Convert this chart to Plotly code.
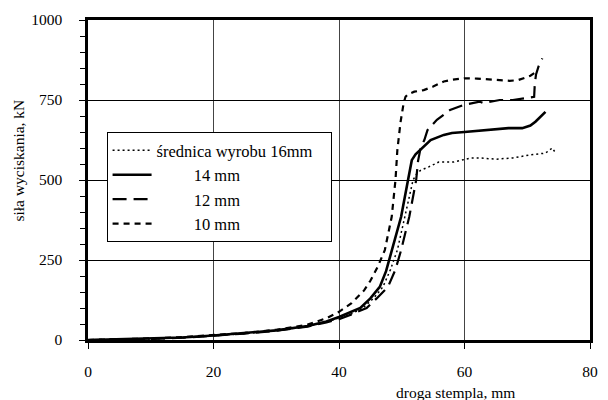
import plotly.graph_objects as go

# ---- data ----
x_16 = [0, 5, 10, 15, 20, 25, 30, 35, 38, 40, 42, 43.8, 45.5, 47, 48.2, 49.3, 50.5, 51.2, 51.8, 52.4, 53, 54.3, 55.9, 58.3, 61, 62.4, 65, 67.7, 70.3, 72.9, 74, 74.4]
y_16 = [0, 1, 3, 7, 13, 20, 29, 43, 56, 68, 82, 100, 130, 166, 220, 281, 385, 450, 500, 520, 530, 541, 556, 556, 569, 569, 565, 569, 578, 584, 600, 588]

x_14 = [0, 5, 10, 15, 20, 25, 30, 35, 38, 40, 41.5, 43.4, 45, 46.5, 47.5, 48.4, 49.9, 51, 51.6, 52.2, 53, 54.6, 56.7, 58, 60, 62, 65, 67, 69.2, 70.5, 71.3, 72.2, 72.9]
y_14 = [0, 2, 4, 8, 14, 21, 30, 44, 58, 72, 85, 100, 130, 166, 215, 281, 385, 500, 562, 580, 594, 625, 641, 647, 650, 653, 659, 662, 662, 670, 682, 698, 713]

x_12 = [0, 5, 10, 15, 20, 25, 30, 35, 38, 40, 42, 44.4, 46, 47.8, 49, 49.9, 51.2, 52.3, 52.6, 53, 53.6, 54.1, 55.6, 57.7, 59.8, 62.4, 63, 65.6, 67.7, 69, 70.5, 71.1, 71.2, 71.4, 71.8, 72.4]
y_12 = [0, 1, 3, 7, 13, 20, 29, 42, 55, 65, 80, 100, 130, 166, 220, 281, 385, 500, 560, 600, 625, 656, 688, 719, 734, 745, 740, 750, 750, 753, 757, 760, 800, 830, 855, 880]

x_10 = [0, 5, 10, 15, 20, 25, 30, 35, 38, 40, 42, 44, 45, 46.2, 47.3, 48.4, 49, 49.3, 49.8, 50.3, 50.6, 51, 52, 53.5, 55, 56.7, 58, 60, 62, 63.5, 65, 67.2, 68.5, 69.7, 70.5, 71.2]
y_10 = [0, 2, 5, 9, 15, 22, 32, 48, 68, 88, 115, 155, 185, 230, 281, 385, 500, 594, 680, 740, 760, 768, 776, 781, 792, 808, 813, 818, 817, 816, 813, 810, 812, 820, 826, 835]

names = ["średnica wyrobu 16mm" + "\u00a0" * 3,
         "\u00a0" * 9 + "14 mm",
         "\u00a0" * 9 + "12 mm",
         "\u00a0" * 9 + "10 mm"]

x_ticks = [0, 20, 40, 60, 80]
y_ticks = [0, 250, 500, 750, 1000]

FONT = "Liberation Serif"

fig = go.Figure()
fig.add_trace(go.Scatter(x=x_16, y=y_16, mode="lines", name=names[0],
                         line=dict(color="black", width=1.5, dash="2px,3px")))
fig.add_trace(go.Scatter(x=x_14, y=y_14, mode="lines", name=names[1],
                         line=dict(color="black", width=2.6)))
fig.add_trace(go.Scatter(x=x_12, y=y_12, mode="lines", name=names[2],
                         line=dict(color="black", width=2.2, dash="14px,7px")))
fig.add_trace(go.Scatter(x=x_10, y=y_10, mode="lines", name=names[3],
                         line=dict(color="black", width=2.2, dash="6px,5px")))

fig.update_layout(
    width=608, height=400,
    margin=dict(l=88, r=10, t=20, b=60),
    paper_bgcolor="white", plot_bgcolor="white",
    font=dict(family=FONT, size=15.5, color="black"),
    showlegend=True,
    legend=dict(x=0.037, y=0.65, xanchor="left", yanchor="top",
                bgcolor="white", bordercolor="black", borderwidth=1,
                itemwidth=39,
                font=dict(family=FONT, size=16.5, color="black")),
    xaxis=dict(range=[0, 80], tickvals=x_ticks, ticktext=[str(v) for v in x_ticks],
               showgrid=True, gridcolor="#444444", gridwidth=1,
               showline=True, linecolor="black", linewidth=2.5, mirror=True,
               ticks="outside", ticklen=6, tickcolor="black", tickwidth=1,
               ticklabelstandoff=10, zeroline=False),
    yaxis=dict(range=[0, 1000], tickvals=y_ticks, ticktext=[str(v) for v in y_ticks],
               showgrid=True, gridcolor="black", gridwidth=1,
               showline=True, linecolor="black", linewidth=2.5, mirror=True,
               ticks="outside", ticklen=6, tickcolor="black", tickwidth=1,
               ticklabelstandoff=14, zeroline=False,
               minor=dict(dtick=50, ticks="outside", ticklen=5, tickcolor="black",
                          tickwidth=1, showgrid=False)),
    annotations=[
        dict(text="siła wyciskania, kN", xref="paper", yref="paper",
             x=-0.138, y=0.56, textangle=-90, showarrow=False,
             xanchor="center", yanchor="middle",
             font=dict(family=FONT, size=15.5, color="black")),
        dict(text="droga stempla, mm", xref="paper", yref="paper",
             x=0.733, y=-0.1625, showarrow=False,
             xanchor="center", yanchor="middle",
             font=dict(family=FONT, size=15.5, color="black")),
    ],
)

fig.write_html("out.html")
